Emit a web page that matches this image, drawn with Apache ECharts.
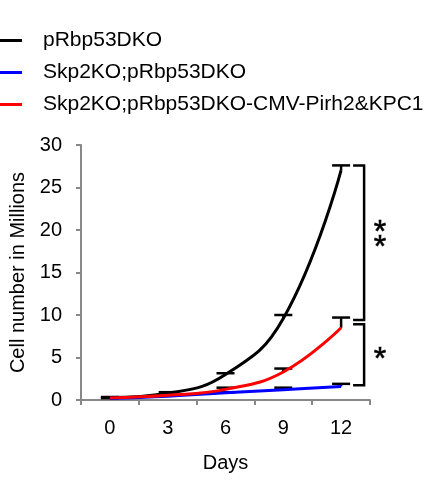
<!DOCTYPE html>
<html>
<head>
<meta charset="utf-8">
<script src="https://cdn.jsdelivr.net/npm/echarts@6/dist/echarts.min.js"></script>
<style>html,body{margin:0;padding:0;background:#fff}#c{width:441px;height:487px}</style>
</head>
<body>
<div id="c"></div>
<script>
var days = ['0', '3', '6', '9', '12'];
var yTicks = [0, 5, 10, 15, 20, 25, 30];
var seriesNames = ['pRbp53DKO', 'Skp2KO;pRbp53DKO', 'Skp2KO;pRbp53DKO-CMV-Pirh2&KPC1'];
var dko = [0.3, 0.8, 3.0, 9.6, 27.05];
var dkoErr = [0.05, 0.12, 0.15, 0.4, 0.55];
var skp2 = [0.2, 0.45, 0.85, 1.2, 1.6];
var skp2Err = [0.02, 0.05, 0.05, 0.25, 0.3];
var rescue = [0.25, 0.55, 1.25, 3.3, 8.5];
var rescueErr = [0.03, 0.05, 0.2, 0.4, 1.2];
var brackets = [
  { cat: 4, top: 27.6, bottom: 9.4, labelAt: 19.7, label: '**' },
  { cat: 4, top: 8.9, bottom: 1.75, labelAt: 5.6, label: '*' }
];

var FONT = 'Liberation Sans, Arial, sans-serif';
var chart = echarts.init(document.getElementById('c'));

function errSeries(vals, errs) {
  return {
    type: 'custom',
    silent: true,
    z: 1,
    data: vals.map(function (v, i) { return [i, v, v + errs[i]]; }),
    renderItem: function (params, api) {
      var p0 = api.coord([api.value(0), api.value(1)]);
      var p1 = api.coord([api.value(0), api.value(2)]);
      return {
        type: 'group',
        children: [
          { type: 'line', shape: { x1: p0[0], y1: p0[1], x2: p1[0], y2: p1[1] }, style: { stroke: '#000', lineWidth: 2.5 } },
          { type: 'line', shape: { x1: p1[0] - 9, y1: p1[1], x2: p1[0] + 9, y2: p1[1] }, style: { stroke: '#000', lineWidth: 2.5 } }
        ]
      };
    }
  };
}

function lineSeries(name, vals, color) {
  return {
    name: name,
    type: 'line',
    data: vals,
    smooth: 0.45,
    symbol: 'none',
    z: 3,
    lineStyle: { color: color, width: 3 },
    itemStyle: { color: color }
  };
}

var option = {
  animation: false,
  backgroundColor: '#fff',
  legend: {
    orient: 'vertical',
    left: 0,
    top: 30,
    padding: 0,
    itemWidth: 22,
    itemHeight: 14,
    itemGap: 11,
    textStyle: { fontFamily: FONT, fontSize: 21, color: '#000', padding: [0, 0, 0, 16], lineHeight: 21 },
    data: seriesNames.map(function (n) { return { name: n, icon: 'path://M0,5.5 L22,5.5 L22,8.5 L0,8.5 Z' }; })
  },
  grid: { left: 81, right: 71, top: 145, bottom: 87, containLabel: false },
  xAxis: {
    type: 'category',
    data: days,
    boundaryGap: true,
    name: 'Days',
    nameLocation: 'middle',
    nameGap: 53,
    nameTextStyle: { fontFamily: FONT, fontSize: 20, color: '#000' },
    axisLine: { lineStyle: { color: '#888', width: 2 } },
    axisTick: { show: true, length: 5, alignWithLabel: false, lineStyle: { color: '#888', width: 2 } },
    axisLabel: { fontFamily: FONT, fontSize: 20, color: '#000', margin: 18 },
    splitLine: { show: false }
  },
  yAxis: {
    type: 'value',
    min: yTicks[0],
    max: yTicks[yTicks.length - 1],
    interval: 5,
    name: 'Cell number in Millions',
    nameLocation: 'middle',
    nameRotate: 90,
    nameGap: 52,
    nameTextStyle: { fontFamily: FONT, fontSize: 20, color: '#000' },
    axisLine: { show: true, lineStyle: { color: '#888', width: 2 } },
    axisTick: { show: true, length: 5, lineStyle: { color: '#888', width: 2 } },
    axisLabel: { fontFamily: FONT, fontSize: 20, color: '#000', margin: 19 },
    splitLine: { show: false }
  },
  series: [
    errSeries(dko, dkoErr),
    errSeries(skp2, skp2Err),
    errSeries(rescue, rescueErr),
    lineSeries(seriesNames[0], dko, '#000000'),
    lineSeries(seriesNames[1], skp2, '#0000ff'),
    lineSeries(seriesNames[2], rescue, '#ff0000'),
    {
      type: 'custom',
      silent: true,
      z: 4,
      data: brackets.map(function (b) { return [b.cat, b.top, b.bottom, b.labelAt]; }),
      renderItem: function (params, api) {
        var b = brackets[params.dataIndex];
        var pt = api.coord([api.value(0), api.value(1)]);
        var pb = api.coord([api.value(0), api.value(2)]);
        var pl = api.coord([api.value(0), api.value(3)]);
        var xv = pt[0] + 23;
        var xl = xv - 11;
        var children = [
          { type: 'polyline', shape: { points: [[xl, pt[1]], [xv, pt[1]], [xv, pb[1]], [xl, pb[1]]] }, style: { stroke: '#000', lineWidth: 2.5, fill: null } }
        ];
        var n = b.label.length;
        for (var k = 0; k < n; k++) {
          var cy = pl[1] + (k - (n - 1) / 2) * 15;
          children.push({ type: 'text', x: xv + 16, y: cy + 8, style: { text: '*', fontFamily: FONT, fontSize: 32, fill: '#000', stroke: '#000', lineWidth: 0.6, align: 'center', verticalAlign: 'middle' } });
        }
        return { type: 'group', children: children };
      }
    }
  ]
};
chart.setOption(option);
</script>
</body>
</html>
